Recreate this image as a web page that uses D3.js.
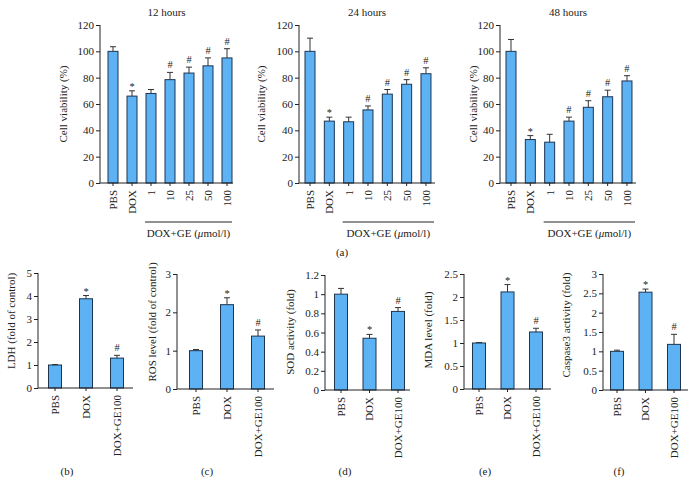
<!DOCTYPE html>
<html>
<head>
<meta charset="utf-8">
<script src="https://cdn.jsdelivr.net/npm/d3@7"></script>
<style>
  body { margin: 0; background: #fff; }
  svg { display: block; font-family: "Liberation Serif", "Times New Roman", serif; }
  .axis path, .axis line { stroke: #222; }
  .axis text { fill: #222; font-size: 11px; font-family: "Liberation Serif", serif; }
</style>
</head>
<body>
<svg id="chart" width="693" height="494"></svg>
<script>
// ---- data ----
var doseGroups = ["PBS", "DOX", "1", "10", "25", "50", "100"];
var viability12 = [100, 66, 68, 78.5, 83.5, 89, 95];
var viability12Err = [3.5, 4, 3, 5.5, 4.5, 6, 7];
var viability24 = [100, 47, 46.5, 55.5, 67.5, 75, 83];
var viability24Err = [10, 3, 3.5, 3, 3.5, 3.5, 4.5];
var viability48 = [100, 33, 31, 47, 57.5, 65.5, 77.5];
var viability48Err = [9, 3, 6, 3, 5, 5, 4];
var doseSig = ["", "*", "", "#", "#", "#", "#"];
var viabilityTicks = [0, 20, 40, 60, 80, 100, 120];

var treatGroups = ["PBS", "DOX", "DOX+GE100"];
var treatSig = ["", "*", "#"];
var ldh = [1.0, 3.88, 1.3];
var ldhErr = [0.02, 0.14, 0.12];
var ldhTicks = [0, 1, 2, 3, 4, 5];
var ros = [1.0, 2.2, 1.38];
var rosErr = [0.03, 0.18, 0.16];
var rosTicks = [0, 1, 2, 3];
var sod = [1.0, 0.54, 0.82];
var sodErr = [0.06, 0.04, 0.04];
var sodTicks = [0, 0.2, 0.4, 0.6, 0.8, 1, 1.2];
var mda = [1.0, 2.11, 1.24];
var mdaErr = [0.01, 0.16, 0.08];
var mdaTicks = [0, 0.5, 1, 1.5, 2, 2.5];
var casp = [1.0, 2.53, 1.18];
var caspErr = [0.03, 0.08, 0.26];
var caspTicks = [0, 0.5, 1, 1.5, 2, 2.5, 3];

var BAR_FILL = "#5cb2f3", BAR_STROKE = "#1d3553", TEXT = "#222", FS = "11px";
var svg = d3.select("#chart");

function panel(o) {
	var g = svg.append("g");
	var n = o.groups.length;
	var x = d3.scaleBand()
		.domain(o.groups)
		.range([o.c0 - o.step / 2, o.c0 + (n - 0.5) * o.step])
		.paddingInner(1 - o.bw / o.step)
		.paddingOuter((1 - o.bw / o.step) / 2);
	var y = d3.scaleLinear().domain([0, o.ticks[o.ticks.length - 1]]).range([o.y0, o.y1]);

	// y axis
	var ya = g.append("g").attr("class", "axis")
		.attr("transform", "translate(" + o.x0 + ",0)")
		.call(d3.axisLeft(y).tickValues(o.ticks).tickSize(4).tickPadding(2).tickFormat(function(d) { return String(d); }));
	ya.select(".domain").attr("d", "M0," + o.y0 + "V" + o.y1);

	// bars
	g.selectAll(".bar").data(o.values).enter().append("rect")
		.attr("x", function(d, i) { return x(o.groups[i]); })
		.attr("y", function(d) { return y(d); })
		.attr("width", x.bandwidth())
		.attr("height", function(d) { return y(0) - y(d); })
		.style("fill", BAR_FILL).style("stroke", BAR_STROKE).style("stroke-width", 1);

	// error bars
	var cx = function(i) { return x(o.groups[i]) + x.bandwidth() / 2; };
	g.selectAll(".err").data(o.values).enter().append("path")
		.attr("d", function(d, i) {
			var t = y(d + o.err[i]);
			return "M" + cx(i) + "," + y(d) + "V" + t + "M" + (cx(i) - 3) + "," + t + "H" + (cx(i) + 3);
		})
		.style("stroke", "#333").style("stroke-width", 1).style("fill", "none");

	// significance markers
	g.selectAll(".sig").data(o.sig).enter().append("text")
		.attr("x", function(d, i) { return cx(i); })
		.attr("y", function(d, i) { return y(o.values[i] + o.err[i]) - (d == "*" ? 1 : 4); })
		.attr("text-anchor", "middle")
		.style("font-size", "10.5px").style("fill", TEXT)
		.text(function(d) { return d; });

	// x axis
	var xa = g.append("g").attr("class", "axis")
		.attr("transform", "translate(0," + o.y0 + ")")
		.call(d3.axisBottom(x).tickSize(3).tickPadding(0));
	xa.select(".domain").attr("d", "M" + o.x0 + ",0H" + o.xEnd);
	xa.selectAll(".tick text")
		.attr("transform", "rotate(-90)")
		.attr("text-anchor", "end")
		.attr("x", -7).attr("y", 0).attr("dy", "0.35em");

	// y title
	g.append("text")
		.attr("transform", "translate(" + o.ytx + "," + o.yty + ") rotate(-90)")
		.attr("text-anchor", "middle")
		.style("font-size", FS).style("fill", TEXT)
		.text(o.ytitle);

	if (o.title) {
		g.append("text").attr("x", (o.x0 + o.xEnd) / 2).attr("y", 16)
			.attr("text-anchor", "middle").style("font-size", FS).style("fill", TEXT)
			.text(o.title);
	}
	if (o.bracket) {
		var bx0 = cx(2) - 6;
		g.append("line").attr("x1", bx0).attr("x2", o.xEnd - 1).attr("y1", 222).attr("y2", 222)
			.style("stroke", "#222").style("stroke-width", 1);
		var lab = g.append("text").attr("x", (bx0 + o.xEnd - 1) / 2).attr("y", 237)
			.attr("text-anchor", "middle").style("font-size", FS).style("fill", TEXT);
		lab.append("tspan").text("DOX+GE (");
		lab.append("tspan").style("font-style", "italic").text("\u03bc");
		lab.append("tspan").text("mol/l)");
	}
	if (o.letter) {
		g.append("text").attr("x", o.lx).attr("y", 475)
			.attr("text-anchor", "middle").style("font-size", FS).style("fill", TEXT)
			.text(o.letter);
	}
}

// top row
panel({groups: doseGroups, values: viability12, err: viability12Err, sig: doseSig, ticks: viabilityTicks,
	x0: 100, xEnd: 233, c0: 113, step: 19, bw: 10, y0: 183, y1: 25,
	ytitle: "Cell viability (%)", ytx: 67, yty: 104, title: "12 hours", bracket: true});
panel({groups: doseGroups, values: viability24, err: viability24Err, sig: doseSig, ticks: viabilityTicks,
	x0: 299, xEnd: 435, c0: 310, step: 19.33, bw: 10, y0: 183, y1: 25,
	ytitle: "Cell viability (%)", ytx: 265, yty: 104, title: "24 hours", bracket: true});
panel({groups: doseGroups, values: viability48, err: viability48Err, sig: doseSig, ticks: viabilityTicks,
	x0: 500, xEnd: 636, c0: 511, step: 19.33, bw: 10, y0: 183, y1: 25,
	ytitle: "Cell viability (%)", ytx: 477, yty: 104, title: "48 hours", bracket: true});

svg.append("text").attr("x", 342).attr("y", 256).attr("text-anchor", "middle")
	.style("font-size", FS).style("fill", TEXT).text("(a)");

// bottom row
panel({groups: treatGroups, values: ldh, err: ldhErr, sig: treatSig, ticks: ldhTicks,
	x0: 38, xEnd: 133, c0: 55, step: 31, bw: 13, y0: 388, y1: 273,
	ytitle: "LDH (fold of control)", ytx: 15, yty: 321, letter: "(b)", lx: 67});
panel({groups: treatGroups, values: ros, err: rosErr, sig: treatSig, ticks: rosTicks,
	x0: 177, xEnd: 274, c0: 196, step: 31, bw: 13, y0: 389, y1: 274,
	ytitle: "ROS level (fold of control)", ytx: 156, yty: 322, letter: "(c)", lx: 207});
panel({groups: treatGroups, values: sod, err: sodErr, sig: treatSig, ticks: sodTicks,
	x0: 325, xEnd: 410, c0: 341, step: 28.5, bw: 13, y0: 390, y1: 275,
	ytitle: "SOD activity (fold)", ytx: 294, yty: 332, letter: "(d)", lx: 345});
panel({groups: treatGroups, values: mda, err: mdaErr, sig: treatSig, ticks: mdaTicks,
	x0: 464, xEnd: 551, c0: 479, step: 28.5, bw: 13, y0: 389, y1: 274,
	ytitle: "MDA level (fold)", ytx: 432, yty: 330, letter: "(e)", lx: 485});
panel({groups: treatGroups, values: casp, err: caspErr, sig: treatSig, ticks: caspTicks,
	x0: 603, xEnd: 688, c0: 617, step: 28.5, bw: 13, y0: 390, y1: 274,
	ytitle: "Caspase3 activity (fold)", ytx: 570, yty: 325, letter: "(f)", lx: 619});
</script>
</body>
</html>
